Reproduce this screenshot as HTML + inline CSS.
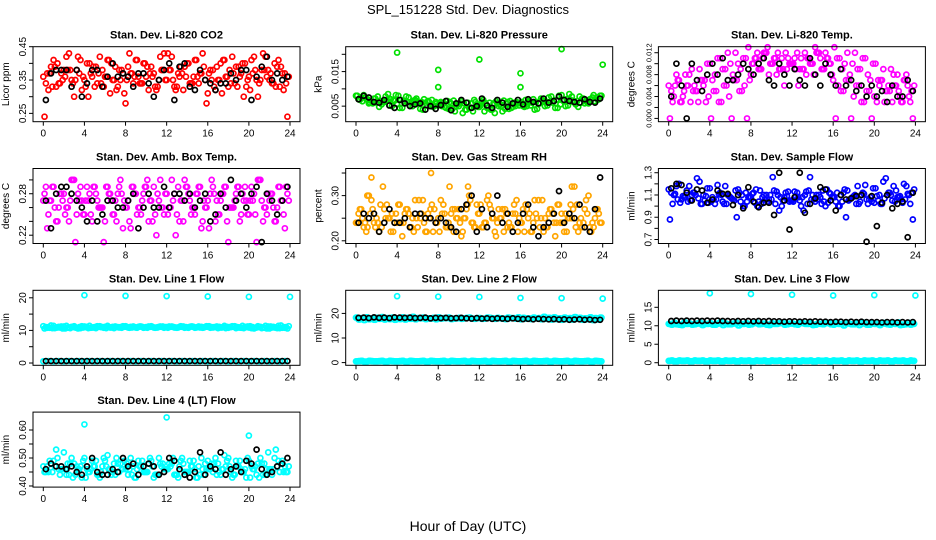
<!DOCTYPE html>
<html><head><meta charset="utf-8"><style>
body{margin:0;background:#fff;}
svg{display:block;font-family:"Liberation Sans",sans-serif;}
</style></head><body>
<svg id="c" width="936" height="540">
<text x="468" y="14" text-anchor="middle" font-size="13">SPL_151228  Std. Dev. Diagnostics</text>
<text x="468" y="531" text-anchor="middle" font-size="14">Hour of Day (UTC)</text>
</svg>
<script>
const hours=[0,0.5,1,1.5,2,2.5,3,3.5,4,4.5,5,5.5,6,6.5,7,7.5,8,8.5,9,9.5,10,10.5,11,11.5,12,12.5,13,13.5,14,14.5,15,15.5,16,16.5,17,17.5,18,18.5,19,19.5,20,20.5,21,21.5,22,22.5,23,23.5];
const hoursQ=[0.25,0.75,1.25,1.75,2.25,2.75,3.25,3.75,4.25,4.75,5.25,5.75,6.25,6.75,7.25,7.75,8.25,8.75,9.25,9.75,10.25,10.75,11.25,11.75,12.25,12.75,13.25,13.75,14.25,14.75,15.25,15.75,16.25,16.75,17.25,17.75,18.25,18.75,19.25,19.75,20.25,20.75,21.25,21.75,22.25,22.75,23.25,23.75];
const hoursE=[0.12,0.62,1.12,1.62,2.12,2.62,3.12,3.62,4.12,4.62,5.12,5.62,6.12,6.62,7.12,7.62,8.12,8.62,9.12,9.62,10.12,10.62,11.12,11.62,12.12,12.62,13.12,13.62,14.12,14.62,15.12,15.62,16.12,16.62,17.12,17.62,18.12,18.62,19.12,19.62,20.12,20.62,21.12,21.62,22.12,22.62,23.12,23.62];
const hoursF=[0.38,0.88,1.38,1.88,2.38,2.88,3.38,3.88,4.38,4.88,5.38,5.88,6.38,6.88,7.38,7.88,8.38,8.88,9.38,9.88,10.38,10.88,11.38,11.88,12.38,12.88,13.38,13.88,14.38,14.88,15.38,15.88,16.38,16.88,17.38,17.88,18.38,18.88,19.38,19.88,20.38,20.88,21.38,21.88,22.38,22.88,23.38,23.88];
const xTicks=[0,4,8,12,16,20,24];

const co2A=[0.36,0.32,0.41,0.34,0.38,0.43,0.30,0.37,0.35,0.40,0.33,0.42,0.36,0.31,0.39,0.35,0.28,0.37,0.41,0.34,0.36,0.39,0.32,0.38,0.35,0.42,0.33,0.37,0.40,0.34,0.36,0.43,0.31,0.38,0.35,0.41,0.33,0.37,0.39,0.30,0.36,0.42,0.34,0.38,0.35,0.40,0.33,0.37];
const co2B=[0.34,0.39,0.33,0.37,0.42,0.35,0.38,0.32,0.40,0.36,0.34,0.38,0.41,0.35,0.33,0.37,0.39,0.34,0.36,0.40,0.32,0.37,0.35,0.43,0.38,0.33,0.36,0.39,0.34,0.41,0.37,0.35,0.38,0.32,0.40,0.36,0.34,0.39,0.37,0.33,0.41,0.35,0.38,0.36,0.34,0.39,0.37,0.24];
const co2K=[0.29,0.37,0.38,0.38,0.38,0.33,0.38,0.30,0.34,0.38,0.38,0.33,0.36,0.40,0.36,0.37,0.36,0.33,0.37,0.37,0.34,0.30,0.35,0.38,0.40,0.29,0.39,0.40,0.33,0.32,0.38,0.35,0.34,0.32,0.34,0.34,0.37,0.35,0.38,0.38,0.29,0.36,0.39,0.42,0.35,0.37,0.35,0.36];

const presA=[0.008,0.0075,0.007,0.0065,0.006,0.0055,0.0068,0.0050,0.0055,0.0045,0.0062,0.0050,0.0058,0.0040,0.0065,0.0048,0.0052,0.0060,0.0042,0.0066,0.0050,0.0058,0.0045,0.0068,0.0048,0.0035,0.0060,0.0030,0.0055,0.0042,0.0065,0.0050,0.0058,0.0068,0.0052,0.0062,0.0072,0.0060,0.0078,0.0068,0.0082,0.0070,0.0078,0.0065,0.0072,0.0060,0.0075,0.0068];
const presB=[0.0070,0.0082,0.0058,0.0072,0.0048,0.0062,0.0052,0.0066,0.0045,0.0060,0.0052,0.0068,0.0042,0.0060,0.0050,0.0062,0.0062,0.0045,0.0058,0.0050,0.0064,0.0040,0.0058,0.0052,0.0062,0.0045,0.0040,0.0058,0.0035,0.0062,0.0048,0.0058,0.0050,0.0062,0.0070,0.0058,0.0066,0.0075,0.0065,0.0080,0.0068,0.0085,0.0062,0.0078,0.0058,0.0070,0.0064,0.0080];
const presK=[0.0070,0.0080,0.0075,0.0062,0.0060,0.0068,0.0052,0.0045,0.0068,0.0058,0.0050,0.0055,0.0058,0.0040,0.0050,0.0042,0.0053,0.0065,0.0038,0.0058,0.0068,0.0060,0.0045,0.0050,0.0072,0.0052,0.0045,0.0068,0.0060,0.0048,0.0058,0.0068,0.0055,0.0070,0.0062,0.0058,0.0072,0.0060,0.0065,0.0078,0.0068,0.0065,0.0062,0.0060,0.0070,0.0062,0.0060,0.0072];
const presOutH=[4,8,8,12,16,16,20,24];
const presOutV=[0.0205,0.0155,0.0105,0.0185,0.0145,0.0105,0.0215,0.017];

const ltA=[0.006,0.004,0.007,0.005,0.008,0.006,0.009,0.007,0.010,0.008,0.011,0.009,0.010,0.012,0.009,0.011,0.008,0.011,0.009,0.012,0.010,0.008,0.011,0.009,0.010,0.012,0.009,0.011,0.010,0.012,0.009,0.011,0.007,0.006,0.005,0.007,0.004,0.006,0.003,0.005,0.004,0.006,0.003,0.005,0.006,0.004,0.007,0.003];
const ltB=[0.005,0.008,0.003,0.006,0.009,0.005,0.007,0.010,0.007,0.011,0.009,0.012,0.008,0.010,0.011,0.013,0.010,0.009,0.012,0.008,0.011,0.009,0.006,0.010,0.011,0.009,0.012,0.010,0.013,0.011,0.012,0.010,0.000,0.005,0.007,0.000,0.006,0.003,0.005,0.000,0.003,0.007,0.005,0.003,0.008,0.003,0.006,0.000];
const ltK=[0.004,0.010,0.006,0.000,0.010,0.007,0.005,0.008,0.010,0.008,0.011,0.007,0.007,0.008,0.010,0.009,0.008,0.010,0.011,0.007,0.006,0.010,0.008,0.006,0.009,0.007,0.006,0.011,0.008,0.006,0.010,0.008,0.006,0.009,0.006,0.007,0.005,0.006,0.004,0.006,0.004,0.005,0.003,0.006,0.004,0.004,0.007,0.005];

const abA=[0.27,0.25,0.29,0.26,0.28,0.24,0.30,0.27,0.25,0.28,0.29,0.26,0.24,0.28,0.27,0.30,0.26,0.23,0.28,0.25,0.29,0.27,0.22,0.26,0.28,0.30,0.25,0.27,0.29,0.26,0.28,0.24,0.27,0.29,0.25,0.28,0.21,0.26,0.29,0.27,0.25,0.28,0.30,0.26,0.27,0.24,0.29,0.23];
const abB=[0.29,0.27,0.24,0.28,0.26,0.30,0.25,0.27,0.29,0.24,0.27,0.26,0.29,0.25,0.28,0.23,0.27,0.29,0.26,0.28,0.24,0.29,0.27,0.25,0.26,0.28,0.24,0.30,0.27,0.25,0.29,0.26,0.28,0.24,0.27,0.29,0.26,0.28,0.25,0.27,0.29,0.21,0.27,0.25,0.28,0.26,0.27,0.28];
const abK=[0.27,0.23,0.28,0.29,0.29,0.28,0.27,0.26,0.24,0.27,0.24,0.25,0.27,0.27,0.26,0.26,0.27,0.28,0.23,0.26,0.28,0.26,0.26,0.29,0.26,0.28,0.28,0.27,0.28,0.26,0.27,0.28,0.24,0.25,0.28,0.26,0.30,0.27,0.28,0.26,0.28,0.29,0.21,0.28,0.27,0.25,0.27,0.29];

const rhA=[0.24,0.27,0.22,0.29,0.25,0.23,0.28,0.26,0.24,0.21,0.27,0.25,0.23,0.29,0.26,0.22,0.25,0.28,0.24,0.22,0.27,0.25,0.30,0.23,0.26,0.24,0.28,0.22,0.25,0.27,0.23,0.26,0.24,0.28,0.22,0.26,0.25,0.23,0.27,0.24,0.26,0.22,0.25,0.28,0.23,0.26,0.24,0.27];
const rhB=[0.26,0.23,0.30,0.24,0.22,0.27,0.25,0.24,0.28,0.26,0.23,0.29,0.25,0.22,0.27,0.24,0.29,0.23,0.26,0.25,0.21,0.27,0.24,0.28,0.23,0.29,0.25,0.24,0.27,0.23,0.26,0.22,0.27,0.25,0.24,0.29,0.22,0.26,0.24,0.28,0.22,0.25,0.32,0.24,0.27,0.23,0.25,0.24];
const rhK=[0.24,0.26,0.25,0.26,0.22,0.24,0.27,0.24,0.24,0.25,0.23,0.26,0.26,0.25,0.25,0.24,0.25,0.24,0.23,0.22,0.27,0.28,0.30,0.22,0.27,0.23,0.26,0.30,0.24,0.26,0.22,0.24,0.26,0.28,0.23,0.21,0.23,0.24,0.26,0.31,0.24,0.26,0.25,0.28,0.23,0.22,0.27,0.34];
const rhOutH=[1.5,7.3,9.1,10.9,21,1.1];
const rhOutV=[0.34,0.35,0.32,0.32,0.32,0.30];

const sfA=[1.15,1.10,1.20,1.08,1.18,1.12,1.22,1.05,1.16,1.02,1.12,1.18,1.08,1.14,1.04,1.12,1.08,1.15,1.02,1.10,1.06,1.13,1.00,1.09,1.05,1.12,1.08,1.02,1.10,1.06,1.14,1.03,1.08,1.00,1.12,1.05,1.09,1.02,1.11,1.06,1.03,1.10,1.07,1.12,1.04,1.09,1.06,1.02];
const sfB=[1.12,1.18,1.06,1.14,1.10,1.25,1.02,1.16,1.08,1.19,1.04,1.10,1.06,1.15,1.00,1.08,1.12,1.04,1.10,1.06,1.14,0.96,1.08,1.04,1.13,1.05,1.10,1.26,1.04,1.08,1.00,1.11,1.04,1.10,0.90,1.07,1.02,1.10,1.06,1.04,1.09,1.02,1.10,1.05,1.08,1.03,1.11,0.88];
const sfK=[1.16,1.20,1.19,1.12,1.05,1.15,1.14,1.03,1.06,1.14,1.11,1.11,1.01,1.10,0.98,1.17,1.04,0.99,1.03,1.03,0.92,1.30,1.05,0.79,1.08,1.30,0.94,1.02,1.07,1.17,1.15,1.05,0.96,1.10,1.06,1.07,1.09,1.10,0.68,1.09,0.82,1.03,1.10,0.98,1.02,1.04,0.72,1.12];

const l1High=[11.3,11.0,11.4,11.1,11.2,10.9,11.3,11.0,11.2,11.4,11.0,11.3,11.1,10.9,11.2,11.0,11.3,11.1,10.9,11.2,11.0,11.3,10.9,11.1,11.0,11.2,10.8,11.1,10.9,11.2,11.0,10.8,11.1,10.9,10.7,11.0,10.8,11.1,10.9,10.7,10.9,10.6,11.0,10.8,10.6,10.9,10.7,10.8];
const l1HighB=[11.0,11.5,10.9,11.2,11.4,11.1,10.8,11.3,11.1,10.9,11.3,11.0,11.4,11.1,11.0,11.3,10.9,11.2,11.1,10.8,11.2,10.9,11.1,10.8,11.2,10.9,11.1,10.8,11.1,10.8,10.9,11.1,10.8,11.0,10.9,10.7,11.0,10.7,10.8,11.0,10.7,10.9,10.7,10.6,10.9,10.7,10.8,10.6];
const l1Low=[0.5,0.6,0.5,0.6,0.5,0.6,0.5,0.6,0.5,0.6,0.5,0.6,0.5,0.6,0.5,0.6,0.5,0.6,0.5,0.6,0.5,0.6,0.5,0.6,0.5,0.6,0.5,0.6,0.5,0.6,0.5,0.6,0.5,0.6,0.5,0.6,0.5,0.6,0.5,0.6,0.5,0.6,0.5,0.6,0.5,0.6,0.5,0.6];
const l1K=[0.6,0.6,0.6,0.6,0.6,0.6,0.6,0.6,0.6,0.6,0.6,0.6,0.6,0.6,0.6,0.6,0.6,0.6,0.6,0.6,0.6,0.6,0.6,0.6,0.6,0.6,0.6,0.6,0.6,0.6,0.6,0.6,0.6,0.6,0.6,0.6,0.6,0.6,0.6,0.6,0.6,0.6,0.6,0.6,0.6,0.6,0.6,0.6];
const l1OutH=[4,8,12,16,20,24];
const l1OutV=[20.8,20.6,20.5,20.4,20.3,20.3];

const l2High=[18.3,18.1,18.4,18.0,18.2,18.5,18.1,18.3,18.0,18.4,18.2,18.6,18.1,18.3,18.0,18.2,18.4,18.1,18.3,17.9,18.2,18.0,18.3,17.8,18.1,17.9,18.2,17.8,18.0,17.7,18.1,17.9,17.6,17.9,17.7,18.0,17.6,17.8,17.5,17.7,17.4,17.7,17.5,17.8,17.4,17.6,17.3,17.5];
const l2Low=[0.5,0.7,0.4,0.6,0.5,0.7,0.4,0.6,0.5,0.7,0.4,0.6,0.5,0.7,0.4,0.6,0.5,0.7,0.4,0.6,0.5,0.7,0.4,0.6,0.5,0.7,0.4,0.6,0.5,0.7,0.4,0.6,0.5,0.7,0.4,0.6,0.5,0.7,0.4,0.6,0.5,0.7,0.4,0.6,0.5,0.7,0.4,0.6];
const l2K=[18.2,18.3,18.1,18.4,18.2,18.3,18.1,18.4,18.3,18.2,18.3,18.1,18.2,18.3,18.0,18.2,18.1,18.2,18.0,18.1,18.2,18.0,17.9,18.1,17.9,18.0,17.8,18.0,17.9,17.8,18.0,17.8,17.7,17.8,17.6,17.8,17.7,17.6,17.7,17.5,17.6,17.4,17.5,17.6,17.4,17.5,17.3,17.4];
const l2OutH=[4,8,12,16,20,24];
const l2OutV=[27.0,26.8,26.7,26.3,26.2,26.0];

const l3High=[10.5,10.8,10.3,10.9,10.6,10.4,10.8,10.5,10.7,10.3,10.9,10.6,10.4,10.8,10.5,10.7,10.4,10.8,10.5,10.3,10.7,10.5,10.8,10.4,10.6,10.3,10.7,10.5,10.2,10.6,10.4,10.7,10.3,10.5,10.1,10.6,10.4,10.2,10.6,10.3,10.5,10.2,10.6,10.3,10.5,10.2,10.4,10.3];
const l3Low=[0.5,0.4,0.6,0.5,0.4,0.6,0.5,0.4,0.6,0.5,0.4,0.6,0.5,0.4,0.6,0.5,0.4,0.6,0.5,0.4,0.6,0.5,0.4,0.6,0.5,0.4,0.6,0.5,0.4,0.6,0.5,0.4,0.6,0.5,0.4,0.6,0.5,0.4,0.6,0.5,0.4,0.6,0.5,0.4,0.6,0.5,0.4,0.6];
const l3K=[11.3,11.4,11.3,11.4,11.3,11.4,11.3,11.4,11.3,11.4,11.3,11.3,11.2,11.3,11.2,11.3,11.2,11.3,11.2,11.3,11.2,11.2,11.1,11.2,11.2,11.1,11.2,11.1,11.2,11.1,11.1,11.0,11.1,11.1,11.0,11.1,11.0,11.1,11.0,11.0,11.0,10.9,11.0,11.0,10.9,11.0,10.9,11.0];
const l3OutH=[4,8,12,16,20,24];
const l3OutV=[18.8,18.6,18.4,18.2,18.3,18.2];

const l4A=[0.47,0.45,0.49,0.46,0.52,0.44,0.48,0.46,0.50,0.45,0.47,0.43,0.49,0.46,0.44,0.48,0.46,0.50,0.43,0.47,0.45,0.49,0.44,0.47,0.46,0.48,0.44,0.50,0.45,0.47,0.43,0.46,0.49,0.45,0.48,0.46,0.50,0.44,0.47,0.45,0.49,0.46,0.43,0.48,0.46,0.50,0.45,0.47];
const l4B=[0.45,0.48,0.53,0.46,0.44,0.50,0.47,0.43,0.46,0.49,0.44,0.47,0.51,0.45,0.48,0.46,0.44,0.47,0.49,0.45,0.48,0.43,0.50,0.46,0.48,0.44,0.47,0.45,0.49,0.46,0.44,0.48,0.46,0.50,0.44,0.47,0.45,0.49,0.46,0.43,0.47,0.44,0.48,0.46,0.44,0.47,0.49,0.45];
const l4K=[0.46,0.48,0.47,0.47,0.46,0.47,0.45,0.44,0.47,0.50,0.45,0.44,0.44,0.46,0.45,0.50,0.47,0.48,0.44,0.47,0.48,0.47,0.44,0.45,0.50,0.49,0.46,0.44,0.43,0.45,0.52,0.44,0.47,0.46,0.52,0.44,0.46,0.47,0.45,0.49,0.48,0.53,0.46,0.44,0.45,0.47,0.48,0.50];
const l4OutH=[4,12,20];
const l4OutV=[0.62,0.645,0.58];

const NS='http://www.w3.org/2000/svg';
const svg=document.getElementById('c');
function mk(tag,attrs,parent){const e=document.createElementNS(NS,tag);for(const k in attrs)e.setAttribute(k,attrs[k]);(parent||svg).appendChild(e);return e;}
function rev(a){return a.slice().reverse();}

function panel(p){
  const left=33+312.7*p.col, right=300+312.7*p.col;
  const top=46.7+121.8*p.row, bottom=121.7+121.8*p.row;
  const g=mk('g',{});
  
  
  const xs=h=>left+10.3+h/24*246.7;
  const ys=v=>bottom-(v-p.ymin)/(p.ymax-p.ymin)*(bottom-top);
  const t=mk('text',{x:(left+right)/2,y:top-8,'text-anchor':'middle','font-size':11,'font-weight':'bold'},g);
  t.textContent=p.title;
  
  
  const yl=mk('text',{x:0,y:0,'text-anchor':'middle','font-size':10,transform:`translate(${left-24},${(top+bottom)/2}) rotate(-90)`},g);
  yl.textContent=p.ylab;
  
  
  p.series.forEach(s=>{
    const sg=mk('g',{fill:'none',stroke:s.color,'stroke-width':1.7},g);
    
    
    s.x.forEach((h,i)=>{
      const c=mk('circle',{cx:xs(h),cy:ys(s.y[i]),r:2.5},sg);
      
      
    });
  });
  const b=mk('rect',{x:left,y:top,width:right-left,height:bottom-top,fill:'none',stroke:'#000','stroke-width':1},g);
  
  
  xTicks.forEach(h=>{
    const x=xs(h);
    mk('line',{x1:x,x2:x,y1:bottom,y2:bottom+4,stroke:'#000'},g);
    const tl=mk('text',{x:x,y:bottom+15,'text-anchor':'middle','font-size':10},g);
    tl.textContent=h;
    
    
  });
  p.yt.forEach((v,i)=>{
    const y=ys(v);
    mk('line',{x1:left-4,x2:left,y1:y,y2:y,stroke:'#000'},g);
    if(p.yl[i]){
      const tl=mk('text',{x:0,y:0,'text-anchor':'middle','font-size':p.yfs||10,transform:`translate(${left-7},${y}) rotate(-90)`},g);
      tl.textContent=p.yl[i];
      
      
    }
  });
}
const R='#ff0000',K='#000',G='#00e000',M='#ff00ff',O='#ffa500',B='#0000ff',C='#00ffff';
function dense(nm,A,Bv,col){return [{name:nm+'-b',x:hoursQ,y:Bv,color:col},{name:nm+'-a',x:hours,y:A,color:col},{name:nm+'-c',x:hoursE,y:rev(Bv),color:col},{name:nm+'-d',x:hoursF,y:rev(A),color:col}];}
panel({name:'panel-co2',row:0,col:0,title:'Stan. Dev. Li-820 CO2',ylab:'Licor ppm',ymin:0.225,ymax:0.45,
  yt:[0.25,0.30,0.35,0.40,0.45],yl:['0.25','','0.35','','0.45'],
  series:dense('co2',co2A,co2B,R).concat([{name:'co2-black',x:hoursQ,y:co2K,color:K}])});
panel({name:'panel-pressure',row:0,col:1,title:'Stan. Dev. Li-820 Pressure',ylab:'kPa',ymin:0.0005,ymax:0.0222,
  yt:[0.005,0.010,0.015,0.020],yl:['0.005','','0.015',''],
  series:dense('pres',presA,presB,G).concat([{name:'pres-black',x:hoursQ,y:presK,color:K},{name:'pres-outliers',x:presOutH,y:presOutV,color:G}])});
panel({name:'panel-temp',row:0,col:2,title:'Stan. Dev. Li-820 Temp.',ylab:'degrees C',ymin:-0.0006,ymax:0.0131,yfs:7.5,
  yt:[0,0.002,0.004,0.006,0.008,0.010,0.012],yl:['0.000','','0.004','','0.008','','0.012'],
  series:dense('temp',ltA,ltB,M).concat([{name:'temp-black',x:hoursQ,y:ltK,color:K}])});
panel({name:'panel-ambbox',row:1,col:0,title:'Stan. Dev. Amb. Box Temp.',ylab:'degrees C',ymin:0.208,ymax:0.3165,
  yt:[0.22,0.24,0.26,0.28,0.30],yl:['0.22','','','0.28',''],
  series:dense('amb',abA,abB,M).concat([{name:'amb-black',x:hoursQ,y:abK,color:K}])});
panel({name:'panel-rh',row:1,col:1,title:'Stan. Dev. Gas Stream RH',ylab:'percent',ymin:0.194,ymax:0.36,
  yt:[0.20,0.25,0.30,0.35],yl:['0.20','','0.30',''],
  series:dense('rh',rhA,rhB,O).concat([{name:'rh-outliers',x:rhOutH,y:rhOutV,color:O},{name:'rh-black',x:hoursQ,y:rhK,color:K}])});
panel({name:'panel-sampleflow',row:1,col:2,title:'Stan. Dev. Sample Flow',ylab:'ml/min',ymin:0.664,ymax:1.338,
  yt:[0.7,0.8,0.9,1.0,1.1,1.2,1.3],yl:['0.7','','0.9','','1.1','','1.3'],
  series:dense('sf',sfA,sfB,B).concat([{name:'sf-black',x:hoursQ,y:sfK,color:K}])});
panel({name:'panel-line1',row:2,col:0,title:'Stan. Dev. Line 1 Flow',ylab:'ml/min',ymin:-0.7,ymax:22.3,
  yt:[0,5,10,15,20],yl:['0','','10','','20'],
  series:dense('l1-high',l1High,l1HighB,C).concat([{name:'l1-low',x:hours,y:l1Low,color:C},{name:'l1-black',x:hoursQ,y:l1K,color:K},{name:'l1-outliers',x:l1OutH,y:l1OutV,color:C}])});
panel({name:'panel-line2',row:2,col:1,title:'Stan. Dev. Line 2 Flow',ylab:'ml/min',ymin:-1.1,ymax:29.4,
  yt:[0,10,20],yl:['0','10','20'],
  series:dense('l2-high',l2High,rev(l2High),C).concat(dense('l2-low',l2Low,rev(l2Low),C)).concat([{name:'l2-black',x:hoursQ,y:l2K,color:K},{name:'l2-outliers',x:l2OutH,y:l2OutV,color:C}])});
panel({name:'panel-line3',row:2,col:2,title:'Stan. Dev. Line 3 Flow',ylab:'ml/min',ymin:-0.7,ymax:19.6,
  yt:[0,5,10,15],yl:['0','5','10','15'],
  series:dense('l3-high',l3High,rev(l3High),C).concat(dense('l3-low',l3Low,rev(l3Low),C)).concat([{name:'l3-black',x:hoursQ,y:l3K,color:K},{name:'l3-outliers',x:l3OutH,y:l3OutV,color:C}])});
panel({name:'panel-line4',row:3,col:0,title:'Stan. Dev. Line 4 (LT) Flow',ylab:'ml/min',ymin:0.396,ymax:0.664,
  yt:[0.40,0.45,0.50,0.55,0.60],yl:['0.40','','0.50','','0.60'],
  series:dense('l4',l4A,l4B,C).concat([{name:'l4-outliers',x:l4OutH,y:l4OutV,color:C},{name:'l4-black',x:hoursQ,y:l4K,color:K}])});
</script>
</body></html>
